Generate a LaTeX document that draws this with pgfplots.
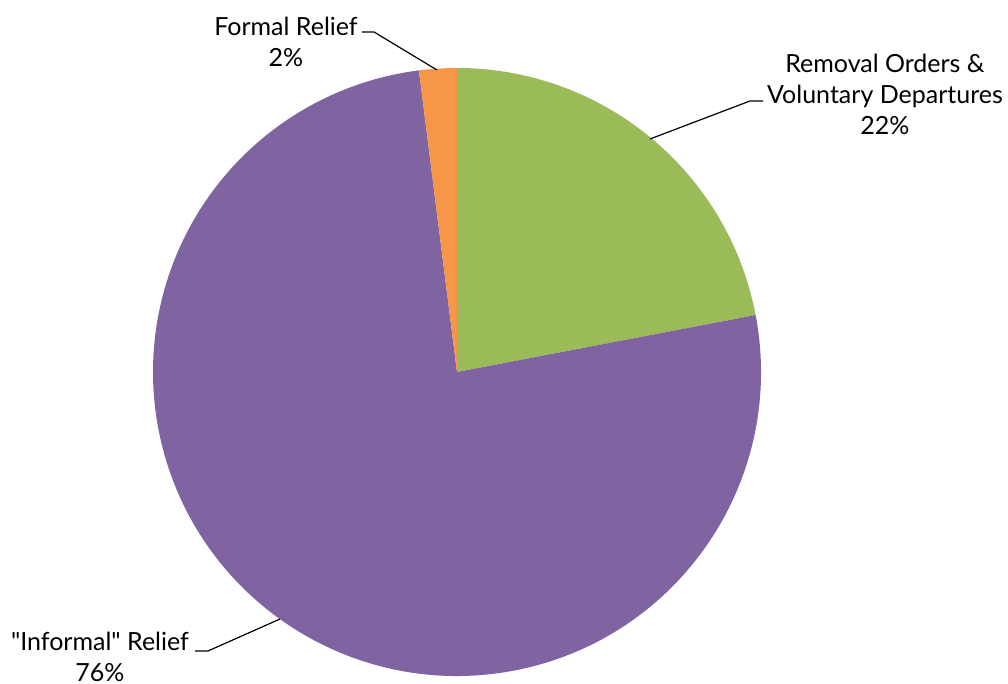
\documentclass[border=0pt]{standalone}
\usepackage{pgfplots}
\pgfplotsset{compat=1.18}
\usepackage{pgfplotstable}
\usepackage{fontspec}
\setmainfont{Lato}
\definecolor{cgreen}{HTML}{9BBB59}
\definecolor{cpurple}{HTML}{8064A2}
\definecolor{corange}{HTML}{F79646}

% shares in percent, clockwise from 12 o'clock
\pgfplotstableread{
label value
removal 22
informal 76
formal 2
}\piedata

\pgfplotstablegetelem{0}{value}\of\piedata \let\vA\pgfplotsretval
\pgfplotstablegetelem{1}{value}\of\piedata \let\vB\pgfplotsretval
\pgfplotstablegetelem{2}{value}\of\piedata \let\vC\pgfplotsretval
\pgfmathsetmacro\aA{90-3.6*\vA}
\pgfmathsetmacro\aB{\aA-3.6*\vB}
\pgfmathsetmacro\aC{\aB-3.6*\vC}

\begin{document}
\begin{tikzpicture}
\begin{axis}[
  x=0.5pt, y=0.5pt,
  xmin=0, xmax=1008, ymin=0, ymax=684,
  hide axis, clip=false,
]
% centre (457,312) in flipped pixel units, radius 304 px = 152pt
\fill[cgreen] (axis cs:457,312) -- ++(90:152pt) arc[start angle=90, end angle=\aA, radius=152pt] -- cycle;
\fill[cpurple] (axis cs:457,312) -- ++(\aA:152pt) arc[start angle=\aA, end angle=\aB, radius=152pt] -- cycle;
\fill[corange] (axis cs:457,312) -- ++(\aB:152pt) arc[start angle=\aB, end angle=\aC, radius=152pt] -- cycle;

% leader lines
\draw[black, line width=0.6pt] (axis cs:362,652) -- (axis cs:374,652) -- (axis cs:437,614);
\draw[black, line width=0.6pt] (axis cs:650,545) -- (axis cs:750,583) -- (axis cs:763,583);
\draw[black, line width=0.6pt] (axis cs:195,33) -- (axis cs:208,33) -- (axis cs:280,65);

\tikzset{lbl/.style={align=center, inner sep=0pt, font=\fontsize{12.5}{15.5}\selectfont}}
\node[lbl] at (axis cs:286,642) {Formal Relief\\2\%};
\node[lbl] at (axis cs:885,590) {Removal Orders \&\\Voluntary Departures\\22\%};
\node[lbl] at (axis cs:100,27) {\textquotedbl Informal\textquotedbl{} Relief\\76\%};
\end{axis}
\pgfresetboundingbox
\path (0,0) rectangle (504pt,342pt);
\end{tikzpicture}
\end{document}
